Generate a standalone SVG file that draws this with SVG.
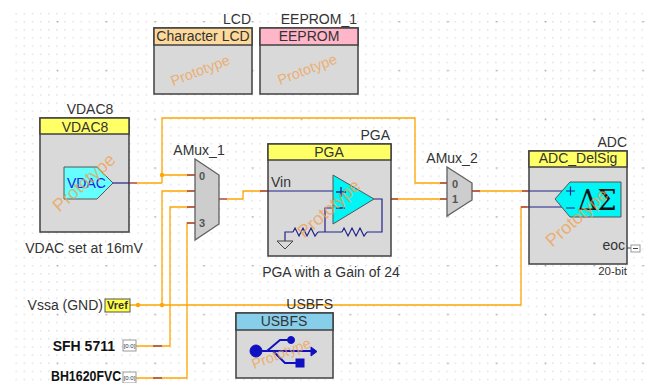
<svg xmlns="http://www.w3.org/2000/svg" width="645" height="383" viewBox="0 0 645 383">
<defs>
<pattern id="grid" x="15.500" y="12.900" width="8.130" height="8.130" patternUnits="userSpaceOnUse"><rect x="0" y="0" width="1.400" height="1.400" fill="#dedede"/></pattern>
<pattern id="major" x="57" y="21" width="48.800" height="48.800" patternUnits="userSpaceOnUse"><rect x="0" y="0" width="1.400" height="1.400" fill="#a8a8a8"/></pattern>
</defs>
<style>
text{font-family:"Liberation Sans",Arial,sans-serif;fill:#333;font-size:14px}
.m{text-anchor:middle}.e{text-anchor:end}
.body{fill:#d9d9d9;stroke:#404040;stroke-width:1.500}
.hdr{stroke:#404040;stroke-width:1.500}
.mux{fill:#cdcdcd;stroke:#606060;stroke-width:1.300}
.proto{fill:#f0a050;fill-opacity:.75;font-size:14.500px;text-anchor:middle}
.big{font-size:18px}
.or{fill:none;stroke:#ffa500;stroke-width:1.300}
.nv{fill:none;stroke:#22228a;stroke-width:1.200}
.rd{fill:none;stroke:#a84a4a;stroke-width:1.300}
.bold{font-weight:bold;fill:#111;font-size:14px}
.pin{fill:#fff;stroke:#999;stroke-width:1}
.num{font-size:11px;font-weight:bold;fill:#555}
</style>
<rect width="645" height="383" fill="#fff"/>
<rect x="13" y="11" width="632" height="372" fill="url(#grid)"/>
<rect x="13" y="11" width="632" height="372" fill="url(#major)"/>

<g id="connectors">
<path class="or" d="M137 183H162M162 183V118H415V183H447M162 175H195M195 191H162V305M195 207H170V346H136M195 223H187V378H136M227 199H243V191H268M391 199H447M472 191H529M527 207H521V305H130"/>
<path class="rd" d="M129 183H137M187 175H195M187 191H195M187 207H195M187 223H195M219 199H227M260 191H268M391 199H398M440 183H447M440 199H447M472 191H480M522 191H529M521 207H529M153 346H162M153 378H162"/>
<circle cx="162" cy="175" r="2.200" fill="#ffa500"/>
<circle cx="138" cy="305" r="2.200" fill="#ffa500"/>
<circle cx="162" cy="305" r="2.200" fill="#ffa500"/>
</g>

<g id="lcd">
<rect class="body" x="154" y="28" width="98" height="66"/>
<rect class="hdr" x="154" y="28" width="98" height="17" fill="#fdd99b"/>
<text class="e" x="251" y="24">LCD</text>
<text class="m" x="203" y="41">Character LCD</text>
<text class="proto" x="202" y="75" transform="rotate(-21 202 75)">Prototype</text>
</g>

<g id="eeprom">
<rect class="body" x="260" y="28" width="98" height="66"/>
<rect class="hdr" x="260" y="28" width="98" height="17" fill="#ffb6c8"/>
<text class="e" x="357" y="24">EEPROM_1</text>
<text class="m" x="309" y="41">EEPROM</text>
<text class="proto" x="309" y="74" transform="rotate(-21 309 74)">Prototype</text>
</g>

<g id="vdac8">
<rect class="body" x="40" y="118" width="89" height="114"/>
<rect class="hdr" x="40" y="118" width="89" height="16" fill="#ffff66"/>
<text class="m" x="90" y="114">VDAC8</text>
<text class="m" x="85" y="132">VDAC8</text>
<path d="M64 167H97L113 183L97 199H64Z" fill="#66ffff" stroke="#555"/>
<text x="67" y="188" style="fill:#2222dd">VDAC</text>
<path class="nv" d="M113 183H129"/>
<text class="proto big" x="88" y="187" transform="rotate(-42 88 187)">Prototype</text>
<text class="m" x="84" y="253">VDAC set at 16mV</text>
</g>

<g id="amux1">
<text class="m" x="199" y="155">AMux_1</text>
<path class="mux" d="M195 159L219 175V224L195 240Z"/>
<text class="num" x="199" y="180">0</text>
<text class="num" x="199" y="227">3</text>
</g>

<g id="pga">
<rect class="body" x="268" y="144" width="123" height="112"/>
<rect class="hdr" x="268" y="144" width="123" height="16" fill="#ffff66"/>
<text class="e" x="390" y="140">PGA</text>
<text class="m" x="329" y="157">PGA</text>
<text x="271" y="187">Vin</text>
<path class="nv" d="M268 191H333M374 199H382V232H367M342 232H325V208H333M325 232H318M293 232H285V241"/>
<path class="nv" d="M293 232l2-4 4 8 4-8 4 8 4-8 4 8 3-4M342 232l2-4 4 8 4-8 4 8 4-8 4 8 3-4"/>
<path d="M333 175L374 199L333 224Z" fill="#00f5f5" stroke="#555"/>
<path d="M277 241H293L285 249Z" fill="none" stroke="#444"/>
<path d="M336 192h10M341 187v10M336 208h9" stroke="#22228a" stroke-width="1.300" fill="none"/>
<text class="proto big" x="333" y="213" transform="rotate(-42 333 213)">Prototype</text>
<text class="m" x="331" y="277">PGA with a Gain of 24</text>
</g>

<g id="amux2">
<text class="m" x="452" y="163">AMux_2</text>
<path class="mux" d="M447 167L472 183V200L447 216Z"/>
<text class="num" x="452" y="188">0</text>
<text class="num" x="452" y="203">1</text>
</g>

<g id="adc">
<rect class="body" x="529" y="151" width="98" height="113"/>
<rect class="hdr" x="529" y="151" width="98" height="16" fill="#ffff66"/>
<text class="e" x="627" y="147">ADC</text>
<text class="m" x="578" y="163">ADC_DelSig</text>
<path class="nv" d="M529 191H562M529 207H562"/>
<path d="M555 199L570 182H621V217H570Z" fill="#00f5f5" stroke="#555"/>
<path d="M566 191h9M570.500 186.500v9M566 208h9" stroke="#22228a" stroke-width="1.200" fill="none"/>
<text x="578" y="210" style="font-size:27px;fill:#111;font-family:'DejaVu Serif',serif">ΔΣ</text>
<text class="proto big" x="581" y="222" transform="rotate(-42 581 222)">Prototype</text>
<text class="e" x="625" y="250">eoc</text>
<path d="M627 248H631" stroke="#444"/>
<rect class="pin" x="631" y="245" width="9" height="7"/>
<path d="M633 248.500h5" stroke="#444"/>
<text class="e" x="627" y="275" style="font-size:11.500px">20-bit</text>
</g>

<g id="vref">
<text class="e" x="103" y="310">Vssa (GND)</text>
<rect x="105" y="299" width="25" height="13" fill="#ffff44" stroke="#555"/>
<text class="m" x="117.500" y="309" style="font-size:11px;font-weight:bold">Vref</text>
</g>

<g id="usbfs">
<rect class="body" x="236" y="313" width="97" height="65"/>
<rect class="hdr" x="236" y="313" width="97" height="17" fill="#87ceeb"/>
<text class="e" x="333" y="309">USBFS</text>
<text class="m" x="284" y="326">USBFS</text>
<g fill="#1010c0" stroke="#1010c0">
<circle cx="256" cy="351" r="6"/>
<path d="M256 351H312" stroke-width="2" fill="none"/>
<path d="M311 347L317 351.500L311 356Z"/>
<path d="M267 351L280 340H291M273 351L285 363H297" stroke-width="2" fill="none"/>
<circle cx="291" cy="340" r="3.500"/>
<rect x="296" y="359" width="8" height="8"/>
</g>
<text class="proto" x="283" y="358" transform="rotate(-21 283 358)">Prototype</text>
</g>

<g id="sfh5711">
<text class="bold e" x="115" y="351">SFH 5711</text>
<rect class="pin" x="123" y="340" width="13" height="11"/>
<text class="m" x="129.500" y="348" style="font-size:6px">[0:0]</text>
</g>

<g id="bh1620">
<text class="bold" transform="translate(51 381) scale(.885 1)">BH1620FVC</text>
<rect class="pin" x="123" y="372" width="13" height="11"/>
<text class="m" x="129.500" y="380" style="font-size:6px">[0:0]</text>
</g>
</svg>
